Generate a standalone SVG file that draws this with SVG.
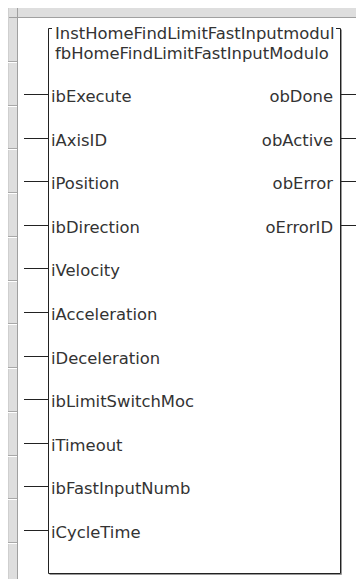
<svg xmlns="http://www.w3.org/2000/svg" width="356" height="579" viewBox="0 0 356 579">
<style>
.t{font-family:"DejaVu Sans",sans-serif;font-size:16.4px;fill:#333}
.r{text-anchor:end}
.pin{stroke:#222;stroke-width:1;fill:none}
.sep{stroke:#a8a8a8;stroke-width:1}
.hl{stroke:#fff;stroke-width:1}
</style>
<rect width="356" height="579" fill="#fff"/>
<g id="ruler">
<rect x="8" y="8" width="348" height="9" fill="#dedede"/>
<rect x="8" y="8" width="9" height="571" fill="#dedede"/>
<line x1="8" y1="17.5" x2="356" y2="17.5" stroke="#a0a0a0"/>
<line x1="17.5" y1="8" x2="17.5" y2="579" stroke="#a0a0a0"/>
<line x1="8.5" y1="8" x2="8.5" y2="579" stroke="#cfcfcf"/>
<g>
<line class="sep" x1="8" y1="61.5" x2="17" y2="61.5"/><line class="hl" x1="8" y1="62.5" x2="17" y2="62.5"/>
<line class="sep" x1="8" y1="105.5" x2="17" y2="105.5"/><line class="hl" x1="8" y1="106.5" x2="17" y2="106.5"/>
<line class="sep" x1="8" y1="148.5" x2="17" y2="148.5"/><line class="hl" x1="8" y1="149.5" x2="17" y2="149.5"/>
<line class="sep" x1="8" y1="192.5" x2="17" y2="192.5"/><line class="hl" x1="8" y1="193.5" x2="17" y2="193.5"/>
<line class="sep" x1="8" y1="236.5" x2="17" y2="236.5"/><line class="hl" x1="8" y1="237.5" x2="17" y2="237.5"/>
<line class="sep" x1="8" y1="280.5" x2="17" y2="280.5"/><line class="hl" x1="8" y1="281.5" x2="17" y2="281.5"/>
<line class="sep" x1="8" y1="323.5" x2="17" y2="323.5"/><line class="hl" x1="8" y1="324.5" x2="17" y2="324.5"/>
<line class="sep" x1="8" y1="367.5" x2="17" y2="367.5"/><line class="hl" x1="8" y1="368.5" x2="17" y2="368.5"/>
<line class="sep" x1="8" y1="411.5" x2="17" y2="411.5"/><line class="hl" x1="8" y1="412.5" x2="17" y2="412.5"/>
<line class="sep" x1="8" y1="455.5" x2="17" y2="455.5"/><line class="hl" x1="8" y1="456.5" x2="17" y2="456.5"/>
<line class="sep" x1="8" y1="498.5" x2="17" y2="498.5"/><line class="hl" x1="8" y1="499.5" x2="17" y2="499.5"/>
<line class="sep" x1="8" y1="542.5" x2="17" y2="542.5"/><line class="hl" x1="8" y1="543.5" x2="17" y2="543.5"/>
</g>
</g>
<g id="block">
<path d="M49.5 574.5 H341.5 V29.5" fill="none" stroke="#999"/>
<path d="M52 28.5 H48.5 V573.5 H340.5 V28.5 H336" fill="none" stroke="#222"/>
<text class="t" x="55" y="38.5">InstHomeFindLimitFastInputmodul</text>
<text class="t" x="55" y="58.5">fbHomeFindLimitFastInputModulo</text>
</g>
<g id="connectors">
<line class="pin" x1="24" y1="94.5" x2="48" y2="94.5"/>
<line class="pin" x1="24" y1="138.5" x2="48" y2="138.5"/>
<line class="pin" x1="24" y1="181.5" x2="48" y2="181.5"/>
<line class="pin" x1="24" y1="225.5" x2="48" y2="225.5"/>
<line class="pin" x1="24" y1="268.5" x2="48" y2="268.5"/>
<line class="pin" x1="24" y1="312.5" x2="48" y2="312.5"/>
<line class="pin" x1="24" y1="356.5" x2="48" y2="356.5"/>
<line class="pin" x1="24" y1="399.5" x2="48" y2="399.5"/>
<line class="pin" x1="24" y1="443.5" x2="48" y2="443.5"/>
<line class="pin" x1="24" y1="486.5" x2="48" y2="486.5"/>
<line class="pin" x1="24" y1="530.5" x2="48" y2="530.5"/>
<line class="pin" x1="341" y1="94.5" x2="356" y2="94.5"/>
<line class="pin" x1="341" y1="138.5" x2="356" y2="138.5"/>
<line class="pin" x1="341" y1="181.5" x2="356" y2="181.5"/>
<line class="pin" x1="341" y1="225.5" x2="356" y2="225.5"/>
</g>
<g id="inputs">
<text class="t" x="51" y="102">ibExecute</text>
<text class="t" x="51" y="146">iAxisID</text>
<text class="t" x="51" y="189">iPosition</text>
<text class="t" x="51" y="233">ibDirection</text>
<text class="t" x="51" y="276">iVelocity</text>
<text class="t" x="51" y="320">iAcceleration</text>
<text class="t" x="51" y="364">iDeceleration</text>
<text class="t" x="51" y="407">ibLimitSwitchMoc</text>
<text class="t" x="51" y="451">iTimeout</text>
<text class="t" x="51" y="494">ibFastInputNumb</text>
<text class="t" x="51" y="538">iCycleTime</text>
</g>
<g id="outputs">
<text class="t r" x="333" y="102">obDone</text>
<text class="t r" x="333" y="146">obActive</text>
<text class="t r" x="333" y="189">obError</text>
<text class="t r" x="333" y="233">oErrorID</text>
</g>
</svg>
